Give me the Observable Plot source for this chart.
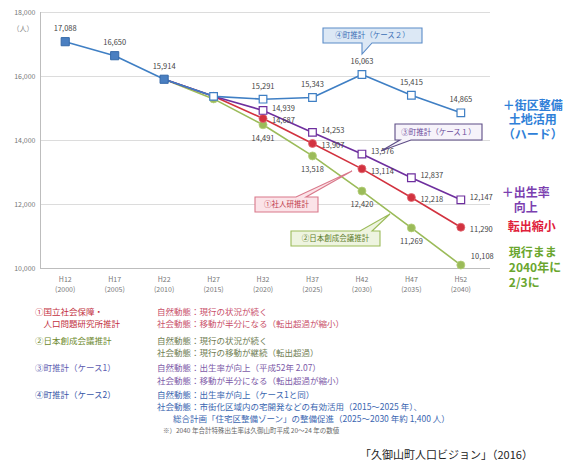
<!DOCTYPE html>
<html><head><meta charset="utf-8">
<script src="https://cdn.jsdelivr.net/npm/d3@7"></script>
<script src="https://cdn.jsdelivr.net/npm/@observablehq/plot@0.6"></script>
<style>
body{margin:0;background:#fff;font-family:"Noto Sans CJK JP","Noto Sans",sans-serif;}
#wrap{position:relative;width:563px;height:476px;overflow:hidden;background:#fff;}
#wrap svg{position:absolute;left:0;top:0;overflow:visible;}
.t{position:absolute;white-space:nowrap;font-size:8.5px;line-height:1;}
</style></head><body><div id="wrap"></div>
<script>
// ---- data ----
const years = [2000,2005,2010,2015,2020,2025,2030,2035,2040];
const heiseiLabels = ["H12","H17","H22","H27","H32","H37","H42","H47","H52"];
const historyYears = [2000,2005,2010];
const historyValues = [17088,16650,15914];
const projYears = [2010,2015,2020,2025,2030,2035,2040];
const case2Values = [15914,15380,15291,15343,16063,15415,14865];
const case1Values = [15914,15380,14939,14253,13576,12837,12147];
const ipssValues  = [15914,15380,14687,13907,13114,12218,11290];
const jpcValues   = [15914,15300,14491,13518,12420,11269,10108];
const yTicks = [10000,12000,14000,16000,18000];

const hist = historyYears.map((year,i)=>({year, value:historyValues[i]}));
const mk = vals => projYears.map((year,i)=>({year, value:vals[i]}));
const case2 = mk(case2Values), case1 = mk(case1Values), ipss = mk(ipssValues), jpc = mk(jpcValues);
const labeled = d => d.year >= 2020;
const fmt = d3.format(",");

const C = {blue:"#3f7fc4", purple:"#6e2f9e", red:"#d2323f", green:"#9bbb59"};

const chart = Plot.plot({
  width:563, height:295,
  marginLeft:40, marginRight:73, marginTop:12, marginBottom:27,
  style:{fontFamily:'"Noto Sans CJK JP","Noto Sans",sans-serif', background:"transparent"},
  x:{type:"linear", domain:[1997.5,2043]},
  y:{domain:[10000,18000]},
  marks:[
    Plot.ruleY(yTicks.filter(v=>v>10000), {stroke:"#dcdcdc", strokeWidth:1}),
    Plot.ruleY([yTicks[0]], {stroke:"#bdbdbd", strokeWidth:1}),
    Plot.frame({anchor:"left", stroke:"#bdbdbd"}),
    Plot.axisY(yTicks, {tickFormat:fmt, tickSize:0, tickPadding:5, fontSize:7, fill:"#777", label:null}),
    Plot.axisX(years, {tickFormat:d=>heiseiLabels[years.indexOf(d)]+"\n("+d+")", tickSize:0, tickPadding:7, fontSize:7, lineHeight:1.35, fill:"#777", label:null}),
    Plot.text(["（人）"], {frameAnchor:"top-left", dx:-28, dy:14, fontSize:7, fill:"#888"}),
    // lines
    Plot.line(jpc, {x:"year", y:"value", stroke:C.green, strokeWidth:1.6}),
    Plot.line(ipss, {x:"year", y:"value", stroke:C.red, strokeWidth:1.6}),
    Plot.line(case1, {x:"year", y:"value", stroke:C.purple, strokeWidth:1.6}),
    Plot.line(case2, {x:"year", y:"value", stroke:C.blue, strokeWidth:1.6}),
    Plot.line(hist, {x:"year", y:"value", stroke:C.blue, strokeWidth:1.6}),
    // markers
    Plot.dot(jpc.slice(1), {x:"year", y:"value", r:4, fill:C.green, stroke:"#b5cf7a", strokeWidth:0.8}),
    Plot.dot(ipss.slice(1), {x:"year", y:"value", r:4, fill:C.red, stroke:"#e06a74", strokeWidth:0.8}),
    Plot.dot(case1.slice(2), {x:"year", y:"value", r:4.3, symbol:"square", fill:"#fff", stroke:C.purple, strokeWidth:1.2}),
    Plot.dot(case2.slice(1), {x:"year", y:"value", r:4.3, symbol:"square", fill:"#fff", stroke:C.blue, strokeWidth:1.2}),
    Plot.dot(hist, {x:"year", y:"value", r:4.6, symbol:"square", fill:"#4a7fc1", stroke:"#3569a8", strokeWidth:1}),
    // value labels
    Plot.text(hist, {x:"year", y:"value", text:d=>fmt(d.value), dy:-13, fontSize:7.5, fill:"#444"}),
    Plot.text(case2.filter(labeled), {x:"year", y:"value", text:d=>fmt(d.value), dy:-13, fontSize:7.5, fill:"#444"}),
    Plot.text(case1.filter(labeled), {x:"year", y:"value", text:d=>fmt(d.value), dx:9, dy:-2, textAnchor:"start", fontSize:7.5, fill:"#444"}),
    Plot.text(ipss.filter(labeled), {x:"year", y:"value", text:d=>fmt(d.value), dx:9, dy:2.5, textAnchor:"start", fontSize:7.5, fill:"#444"}),
    Plot.text(jpc.filter(d=>labeled(d) && d.year<2040), {x:"year", y:"value", text:d=>fmt(d.value), dy:14, fontSize:7.5, fill:"#444"}),
    Plot.text(jpc.filter(d=>d.year===2040), {x:"year", y:"value", text:d=>fmt(d.value), dx:10, dy:-8, textAnchor:"start", fontSize:7.5, fill:"#444"}),
    // right annotations
    Plot.text(case2.filter(d=>d.year===2040), {x:"year", y:"value", text:()=>"＋街区整備\n土地活用\n（ハード）", dx:72, dy:7, fontSize:12, fontWeight:"bold", fill:"#2f7fd8", lineHeight:1.2}),
    Plot.text(case1.filter(d=>d.year===2040), {x:"year", y:"value", text:()=>"＋出生率\n向上", dx:65, dy:0, fontSize:12, fontWeight:"bold", fill:"#7b3fb0", lineHeight:1.2}),
    Plot.text(ipss.filter(d=>d.year===2040), {x:"year", y:"value", text:()=>"転出縮小", dx:71, dy:0, fontSize:12, fontWeight:"bold", fill:"#e0203a"}),
    Plot.text(jpc.filter(d=>d.year===2040), {x:"year", y:"value", text:()=>"現行まま\n2040年に\n2/3に", dx:48, dy:2, textAnchor:"start", fontSize:12, fontWeight:"bold", fill:"#6aa62e", lineHeight:1.25})
  ]
});

const wrap = document.getElementById("wrap");
wrap.appendChild(chart);

// callout bubbles (annotations)
const svg = d3.select(chart);
function bubble(x0,y0,x1,y1,edge,b0,b1,tip,fill,stroke,text,color){
  let p;
  if(edge==="bottom") p=`M${x0},${y0}H${x1}V${y1}H${b1}L${tip[0]},${tip[1]}L${b0},${y1}H${x0}Z`;
  else p=`M${x0},${y0}H${b0}L${tip[0]},${tip[1]}L${b1},${y0}H${x1}V${y1}H${x0}Z`;
  svg.append("path").attr("d",p).attr("fill",fill).attr("stroke",stroke).attr("stroke-width",1.1);
  svg.append("text").attr("x",(x0+x1)/2).attr("y",(y0+y1)/2).attr("dy","0.35em")
    .attr("text-anchor","middle").attr("font-size",7.5).attr("fill",color).text(text);
}
bubble(323,28,422,43,"bottom",362,372,[362,54],"#dce8f5","#5b8cc8","④町推計（ケース２）","#3b6fb6");
bubble(395,124,482,140,"bottom",400,411,[381,151],"#f6f3fa","#5d4c86","③町推計（ケース１）","#6a4a9a");
bubble(255,197,318,212,"top",296,306,[352,171],"#fbe3e8","#d9788a","①社人研推計","#c0404d");
bubble(291,231,380,246,"top",360,372,[390,214],"#eef4e0","#9bbb59","②日本創成会議推計","#5e7e2c");

// legend / description text
const rows = [
  ["①国立社会保障・",35,311,"#c2303e"],
  ["　人口問題研究所推計",35,323,"#c2303e"],
  ["自然動態：現行の状況が続く",157,311,"#c9506a"],
  ["社会動態：移動が半分になる（転出超過が縮小）",157,323,"#c9506a"],
  ["②日本創成会議推計",35,340,"#6e8a2e"],
  ["自然動態：現行の状況が続く",157,340,"#6f7d52"],
  ["社会動態：現行の移動が継続（転出超過）",157,352,"#6f7d52"],
  ["③町推計（ケース1）",35,367,"#5c5cb0"],
  ["自然動態：出生率が向上（平成52年 2.07）",157,367,"#7d5aa8"],
  ["社会動態：移動が半分になる（転出超過が縮小）",157,380,"#7d5aa8"],
  ["④町推計（ケース2）",35,394,"#3a58a8"],
  ["自然動態：出生率が向上（ケース1と同）",157,394,"#3a66b0"],
  ["社会動態：市街化区域内の宅開発などの有効活用（2015～2025 年）、",157,406,"#3a66b0"],
  ["総合計画「住宅区整備ゾーン」の整備促進（2025～2030 年約 1,400 人）",173,418,"#3a66b0"]
];
for(const [txt,x,y,col] of rows){
  const d=document.createElement("div"); d.className="t";
  d.style.left=x+"px"; d.style.top=(y-4.5)+"px"; d.style.color=col; d.textContent=txt;
  wrap.appendChild(d);
}
const note=document.createElement("div"); note.className="t";
note.style.cssText="left:163px;top:427px;font-size:6.5px;color:#666;";
note.textContent="※）2040 年合計特殊出生率は久御山町平成 20～24 年の数値";
wrap.appendChild(note);
const cap=document.createElement("div"); cap.className="t";
cap.style.cssText="left:360px;top:449px;font-size:11px;color:#222;";
cap.textContent="「久御山町人口ビジョン」（2016）";
wrap.appendChild(cap);
</script></body></html>
